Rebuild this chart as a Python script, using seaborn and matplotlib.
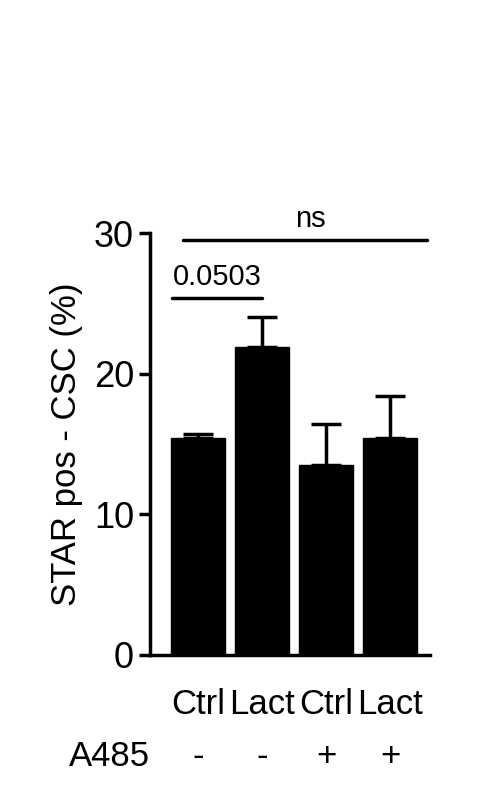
import numpy as np
import pandas as pd
import seaborn as sns
import matplotlib.pyplot as plt

groups = ["Ctrl", "Lact", "Ctrl", "Lact"]
a485 = ["-", "-", "+", "+"]
means = [15.4, 21.9, 13.5, 15.4]
sems = [0.3, 2.1, 2.9, 3.0]

df = pd.DataFrame({"key": [f"{g}{i}" for i, g in enumerate(groups)], "val": means})

sns.set_style("ticks")
plt.rcParams['font.family'] = ['Liberation Sans', 'DejaVu Sans']
plt.rcParams['text.color'] = 'black'
plt.rcParams['axes.labelcolor'] = 'black'
plt.rcParams['xtick.color'] = 'black'
plt.rcParams['ytick.color'] = 'black'

fig = plt.figure(figsize=(5.01, 7.91), dpi=100)
ax = fig.add_axes([0.2994, 0.172, 0.559, 0.5334])

sns.barplot(data=df, x="key", y="val", color="black", edgecolor="black",
            width=0.85, ax=ax, saturation=1)
x = np.arange(len(means))
ax.errorbar(x, means, yerr=[np.zeros(len(sems)), sems], fmt="none",
            ecolor="black", elinewidth=2.5, capsize=11, capthick=2.5)

ax.set_xlim(-0.75, 3.625)
ax.set_ylim(0, 30)
ax.set_yticks([0, 10, 20, 30])
ax.set_xticks(x)
ax.set_xticklabels(groups, fontsize=25)
ax.tick_params(axis="x", length=0, pad=24)
ax.tick_params(axis="y", labelsize=26, width=2.5, length=8, colors="black")
ax.set_xlabel("")
ax.set_ylabel("STAR pos - CSC (%)", fontsize=25, labelpad=8)
sns.despine(ax=ax)
for s in ["left", "bottom"]:
    ax.spines[s].set_linewidth(2.5)
    ax.spines[s].set_color("black")

# second label row
for xi, s in zip(x, a485):
    ax.text(xi, -7.2, s, ha="center", va="center", fontsize=25, clip_on=False)
ax.text(-0.75, -7.2, "A485", ha="right", va="center", fontsize=25, clip_on=False)

# significance bars
ax.plot([-0.4, 1.0], [25.4, 25.4], color="black", lw=2.5, clip_on=False)
ax.text(0.3, 25.9, "0.0503", ha="center", va="bottom", fontsize=21)
ax.plot([-0.23, 3.58], [29.5, 29.5], color="black", lw=2.5, clip_on=False)
ax.text(1.75, 30.0, "ns", ha="center", va="bottom", fontsize=21)

fig.savefig("out.png", dpi=100)
